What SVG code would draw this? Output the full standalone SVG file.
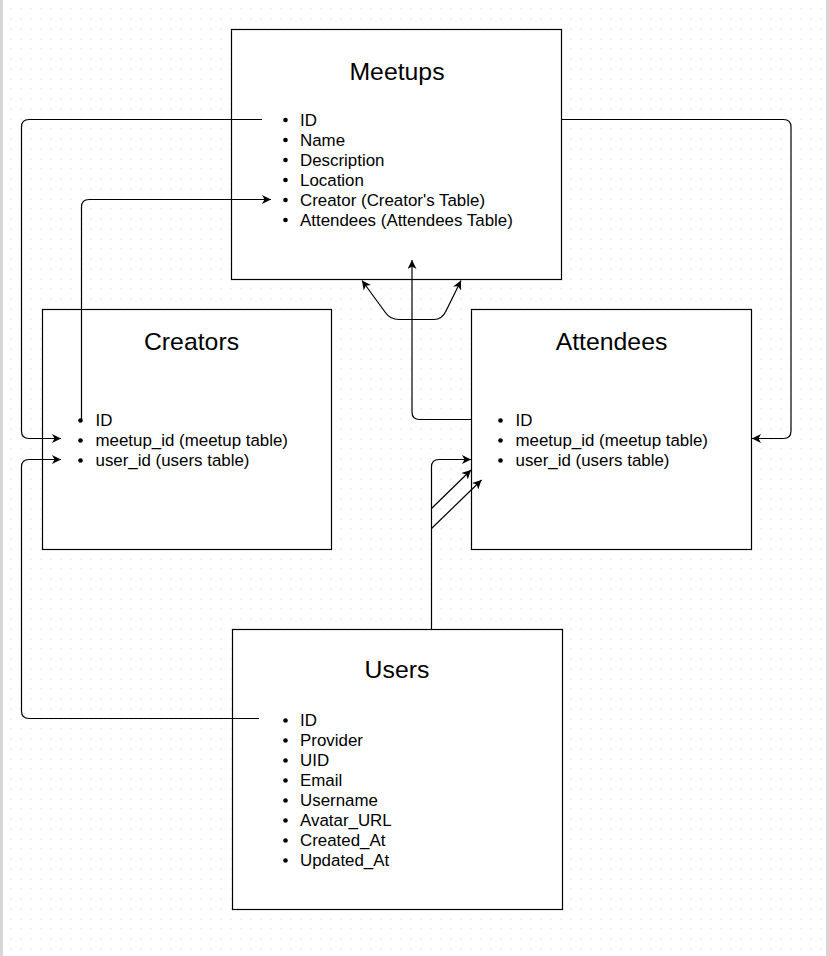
<svg xmlns="http://www.w3.org/2000/svg" width="829" height="956" viewBox="0 0 829 956">
<style>
.box{fill:#fff;stroke:#000;stroke-width:1.2}
.title{font-family:"Liberation Sans",Arial,sans-serif;font-size:24.8px;fill:#000;text-anchor:middle}
.item{font-family:"Liberation Sans",Arial,sans-serif;font-size:16.9px;fill:#000}
.bul{fill:#000}
.edge{fill:none;stroke:#000;stroke-width:1.2}
</style>
<defs>
<pattern id="grid" patternUnits="userSpaceOnUse" x="0" y="0" width="10" height="10">
<rect x="0.5" y="8.5" width="1" height="1" fill="#d4d4d4"/>
</pattern>
<marker id="arr" markerUnits="userSpaceOnUse" markerWidth="12" markerHeight="10" refX="9" refY="4.5" orient="auto-start-reverse">
<path d="M0,0 L9,4.5 L0,9 L2.5,4.5 z" fill="#000"/>
</marker>
</defs>
<rect x="0" y="0" width="829" height="956" fill="#fff"/>
<rect x="0" y="0" width="829" height="956" fill="url(#grid)"/>
<rect x="0" y="0" width="3" height="956" fill="#d6d6d6"/>
<rect x="826" y="0" width="3" height="956" fill="#d6d6d6"/>

<g id="meetups">
<rect class="box" x="231.5" y="29.5" width="330" height="250"/>
<text class="title" x="397" y="80">Meetups</text>
<circle class="bul" cx="285.5" cy="120" r="2.3"/><text class="item" x="300" y="126">ID</text>
<circle class="bul" cx="285.5" cy="140" r="2.3"/><text class="item" x="300" y="146">Name</text>
<circle class="bul" cx="285.5" cy="160" r="2.3"/><text class="item" x="300" y="166">Description</text>
<circle class="bul" cx="285.5" cy="180" r="2.3"/><text class="item" x="300" y="186">Location</text>
<circle class="bul" cx="285.5" cy="200" r="2.3"/><text class="item" x="300" y="206">Creator (Creator's Table)</text>
<circle class="bul" cx="285.5" cy="220" r="2.3"/><text class="item" x="300" y="226">Attendees (Attendees Table)</text>
</g>

<g id="creators">
<rect class="box" x="42.5" y="309.5" width="289" height="240"/>
<text class="title" x="191.5" y="350">Creators</text>
<circle class="bul" cx="80.5" cy="420.5" r="2.3"/><text class="item" x="95.5" y="426">ID</text>
<circle class="bul" cx="80.5" cy="440.5" r="2.3"/><text class="item" x="95.5" y="446">meetup_id (meetup table)</text>
<circle class="bul" cx="80.5" cy="460.5" r="2.3"/><text class="item" x="95.5" y="466">user_id (users table)</text>
</g>

<g id="attendees">
<rect class="box" x="471.5" y="309.5" width="280" height="240"/>
<text class="title" x="611.5" y="350">Attendees</text>
<circle class="bul" cx="500.5" cy="420.5" r="2.3"/><text class="item" x="515.5" y="426">ID</text>
<circle class="bul" cx="500.5" cy="440.5" r="2.3"/><text class="item" x="515.5" y="446">meetup_id (meetup table)</text>
<circle class="bul" cx="500.5" cy="460.5" r="2.3"/><text class="item" x="515.5" y="466">user_id (users table)</text>
</g>

<g id="users">
<rect class="box" x="232.5" y="629.5" width="330" height="280"/>
<text class="title" x="397" y="678">Users</text>
<circle class="bul" cx="285.5" cy="720.5" r="2.3"/><text class="item" x="300" y="726">ID</text>
<circle class="bul" cx="285.5" cy="740.5" r="2.3"/><text class="item" x="300" y="746">Provider</text>
<circle class="bul" cx="285.5" cy="760.5" r="2.3"/><text class="item" x="300" y="766">UID</text>
<circle class="bul" cx="285.5" cy="780.5" r="2.3"/><text class="item" x="300" y="786">Email</text>
<circle class="bul" cx="285.5" cy="800.5" r="2.3"/><text class="item" x="300" y="806">Username</text>
<circle class="bul" cx="285.5" cy="820.5" r="2.3"/><text class="item" x="300" y="826">Avatar_URL</text>
<circle class="bul" cx="285.5" cy="840.5" r="2.3"/><text class="item" x="300" y="846">Created_At</text>
<circle class="bul" cx="285.5" cy="860.5" r="2.3"/><text class="item" x="300" y="866">Updated_At</text>
</g>

<g id="connectors">
<path class="edge" d="M262 119.5 H29 Q21.5 119.5 21.5 127 V431 Q21.5 438.5 29 438.5 H61" marker-end="url(#arr)"/>
<path class="edge" d="M81.5 419 V207 Q81.5 199.5 89 199.5 H271" marker-end="url(#arr)"/>
<path class="edge" d="M562 119.5 H783.5 Q791 119.5 791 127 V431 Q791 438.5 783.5 438.5 H752" marker-end="url(#arr)"/>
<path class="edge" d="M259 718.5 H29 Q21.5 718.5 21.5 711 V467 Q21.5 459.5 29 459.5 H61" marker-end="url(#arr)"/>
<path class="edge" d="M431.5 629.5 V467 Q431.5 459.5 439 459.5 H471" marker-end="url(#arr)"/>
<path class="edge" d="M431.5 508.5 L471 470" marker-end="url(#arr)"/>
<path class="edge" d="M431.5 528.5 L481.5 480" marker-end="url(#arr)"/>
<path class="edge" d="M471.5 419.5 H419.5 Q412 419.5 412 412 V260" marker-end="url(#arr)"/>
<path class="edge" d="M362 280.5 L385 312 Q390 319.5 399 319.5 H434 Q442 319.5 446 311 L461 280.5" marker-start="url(#arr)" marker-end="url(#arr)"/>
</g>
</svg>
